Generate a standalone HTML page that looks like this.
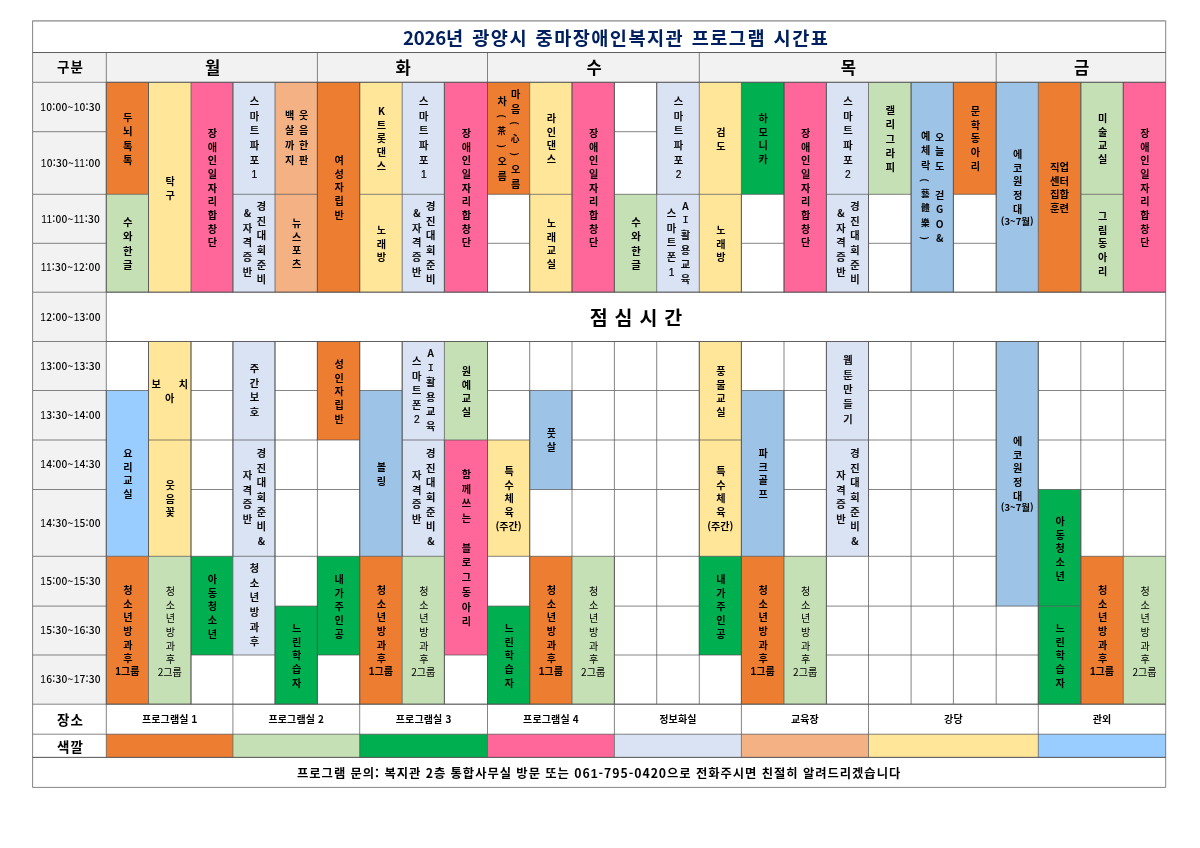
<!DOCTYPE html>
<html lang="ko"><head><meta charset="utf-8"><title>2026년 광양시 중마장애인복지관 프로그램 시간표</title>
<style>
html,body{margin:0;padding:0;background:#fff}
body{width:1200px;height:848px;position:relative;overflow:hidden;font-family:"Noto Sans CJK KR","Liberation Sans",sans-serif;color:#000}
svg{position:absolute;left:0;top:0}
.c{position:absolute;display:flex;align-items:center;justify-content:center;box-sizing:border-box;overflow:visible}
.v{writing-mode:vertical-rl;text-orientation:upright;text-align:center;white-space:nowrap;font-family:"Noto Sans CJK KR",sans-serif}
.h{white-space:nowrap;text-align:center}
.o{font-family:"Liberation Sans",sans-serif}
.d{font-family:"Liberation Sans",sans-serif;margin-bottom:-0.13em;line-height:0}
.hj{font-size:88%}
.im{font-family:"Liberation Mono",monospace}
.pr{text-orientation:sideways;font-size:90%;padding-inline:0.386em;line-height:0}
.vh{display:flex;flex-direction:column;align-items:center}
.title{font-size:18.6px;font-weight:700;color:#002060;letter-spacing:1.45px;word-spacing:1px;position:relative;left:17px}
.hd1{font-size:13.5px;font-weight:700;letter-spacing:0.9px;position:relative;top:-1px;left:1px}
.hd2{font-size:16.6px;font-weight:700;position:relative;top:-0.6px;left:0.7px}
.tm{font-size:10.2px;font-weight:500;letter-spacing:0.22px;position:relative;top:-0.8px;left:1.2px}
.lunch{font-size:19.5px;font-weight:700;word-spacing:1.5px}
.lab{font-size:13.5px;font-weight:700;letter-spacing:0.9px;position:relative;top:-0.5px;left:1px}
.lab2{top:0.7px}
.pl{font-size:10px;font-weight:700;letter-spacing:0.15px;position:relative;top:-0.7px}
.ft{font-size:12.3px;font-weight:700;letter-spacing:0.96px;position:relative;top:0.3px}
</style></head><body>
<svg width="1200" height="848" viewBox="0 0 1200 848">
<rect x="32.6" y="20.8" width="1133.1" height="31.7" fill="#fff"/>
<rect x="32.6" y="52.5" width="1133.1" height="29.8" fill="#F2F2F2"/>
<rect x="32.6" y="82.3" width="73.7" height="621.9" fill="#F2F2F2"/>
<rect x="106.3" y="82.3" width="1059.4" height="621.9" fill="#fff"/>
<rect x="32.6" y="704.2" width="1133.1" height="83.2" fill="#fff"/>
<rect x="106.3" y="82.3" width="42.2" height="112" fill="#ED7D31"/>
<rect x="106.3" y="194.3" width="42.2" height="97.9" fill="#C5E0B4"/>
<rect x="148.5" y="82.3" width="42.5" height="209.9" fill="#FFE699"/>
<rect x="191" y="82.3" width="41.9" height="209.9" fill="#FF6699"/>
<rect x="232.9" y="82.3" width="42.1" height="112" fill="#DAE3F3"/>
<rect x="232.9" y="194.3" width="42.1" height="97.9" fill="#DAE3F3"/>
<rect x="275" y="82.3" width="42.4" height="112" fill="#F4B183"/>
<rect x="275" y="194.3" width="42.4" height="97.9" fill="#F4B183"/>
<rect x="317.4" y="82.3" width="42.3" height="209.9" fill="#ED7D31"/>
<rect x="359.7" y="82.3" width="42.5" height="112" fill="#FFE699"/>
<rect x="359.7" y="194.3" width="42.5" height="97.9" fill="#FFE699"/>
<rect x="402.2" y="82.3" width="42.2" height="112" fill="#DAE3F3"/>
<rect x="402.2" y="194.3" width="42.2" height="97.9" fill="#DAE3F3"/>
<rect x="444.4" y="82.3" width="43.1" height="209.9" fill="#FF6699"/>
<rect x="487.5" y="82.3" width="42.2" height="112" fill="#ED7D31"/>
<rect x="529.7" y="82.3" width="42.3" height="112" fill="#FFE699"/>
<rect x="529.7" y="194.3" width="42.3" height="97.9" fill="#FFE699"/>
<rect x="572" y="82.3" width="42.4" height="209.9" fill="#FF6699"/>
<rect x="614.4" y="194.3" width="42.3" height="97.9" fill="#C5E0B4"/>
<rect x="656.7" y="82.3" width="42.6" height="112" fill="#DAE3F3"/>
<rect x="656.7" y="194.3" width="42.6" height="97.9" fill="#DAE3F3"/>
<rect x="699.3" y="82.3" width="42.1" height="112" fill="#FFE699"/>
<rect x="699.3" y="194.3" width="42.1" height="97.9" fill="#FFE699"/>
<rect x="741.4" y="82.3" width="42.6" height="112" fill="#00B050"/>
<rect x="784" y="82.3" width="42.4" height="209.9" fill="#FF6699"/>
<rect x="826.4" y="82.3" width="42.1" height="112" fill="#DAE3F3"/>
<rect x="826.4" y="194.3" width="42.1" height="97.9" fill="#DAE3F3"/>
<rect x="868.5" y="82.3" width="42.6" height="112" fill="#C5E0B4"/>
<rect x="911.1" y="82.3" width="42.3" height="209.9" fill="#9DC3E6"/>
<rect x="953.4" y="82.3" width="42.8" height="112" fill="#ED7D31"/>
<rect x="996.2" y="82.3" width="42.1" height="209.9" fill="#9DC3E6"/>
<rect x="1038.3" y="82.3" width="42.5" height="209.9" fill="#ED7D31"/>
<rect x="1080.8" y="82.3" width="42.5" height="112" fill="#C5E0B4"/>
<rect x="1080.8" y="194.3" width="42.5" height="97.9" fill="#C5E0B4"/>
<rect x="1123.3" y="82.3" width="42.4" height="209.9" fill="#FF6699"/>
<rect x="106.3" y="390.5" width="42.2" height="165.8" fill="#99CCFF"/>
<rect x="106.3" y="556.3" width="42.2" height="147.9" fill="#ED7D31"/>
<rect x="148.5" y="341.5" width="42.5" height="98.5" fill="#FFE699"/>
<rect x="148.5" y="440" width="42.5" height="116.3" fill="#FFE699"/>
<rect x="148.5" y="556.3" width="42.5" height="147.9" fill="#C5E0B4"/>
<rect x="191" y="556.3" width="41.9" height="98.7" fill="#00B050"/>
<rect x="232.9" y="341.5" width="42.1" height="98.5" fill="#DAE3F3"/>
<rect x="232.9" y="440" width="42.1" height="116.3" fill="#DAE3F3"/>
<rect x="232.9" y="556.3" width="42.1" height="98.7" fill="#DAE3F3"/>
<rect x="275" y="606.1" width="42.4" height="98.1" fill="#00B050"/>
<rect x="317.4" y="341.5" width="42.3" height="98.5" fill="#ED7D31"/>
<rect x="317.4" y="556.3" width="42.3" height="98.7" fill="#00B050"/>
<rect x="359.7" y="390.5" width="42.5" height="165.8" fill="#9DC3E6"/>
<rect x="359.7" y="556.3" width="42.5" height="147.9" fill="#ED7D31"/>
<rect x="402.2" y="341.5" width="42.2" height="98.5" fill="#DAE3F3"/>
<rect x="402.2" y="440" width="42.2" height="116.3" fill="#DAE3F3"/>
<rect x="402.2" y="556.3" width="42.2" height="147.9" fill="#C5E0B4"/>
<rect x="444.4" y="341.5" width="43.1" height="98.5" fill="#C5E0B4"/>
<rect x="444.4" y="440" width="43.1" height="215" fill="#FF6699"/>
<rect x="487.5" y="440" width="42.2" height="116.3" fill="#FFE699"/>
<rect x="487.5" y="606.1" width="42.2" height="98.1" fill="#00B050"/>
<rect x="529.7" y="390.5" width="42.3" height="99" fill="#9DC3E6"/>
<rect x="529.7" y="556.3" width="42.3" height="147.9" fill="#ED7D31"/>
<rect x="572" y="556.3" width="42.4" height="147.9" fill="#C5E0B4"/>
<rect x="699.3" y="341.5" width="42.1" height="98.5" fill="#FFE699"/>
<rect x="699.3" y="440" width="42.1" height="116.3" fill="#FFE699"/>
<rect x="699.3" y="556.3" width="42.1" height="98.7" fill="#00B050"/>
<rect x="741.4" y="390.5" width="42.6" height="165.8" fill="#9DC3E6"/>
<rect x="741.4" y="556.3" width="42.6" height="147.9" fill="#ED7D31"/>
<rect x="784" y="556.3" width="42.4" height="147.9" fill="#C5E0B4"/>
<rect x="826.4" y="341.5" width="42.1" height="98.5" fill="#DAE3F3"/>
<rect x="826.4" y="440" width="42.1" height="116.3" fill="#DAE3F3"/>
<rect x="996.2" y="341.5" width="42.1" height="264.6" fill="#9DC3E6"/>
<rect x="1038.3" y="489.5" width="42.5" height="116.6" fill="#00B050"/>
<rect x="1038.3" y="606.1" width="42.5" height="98.1" fill="#00B050"/>
<rect x="1080.8" y="556.3" width="42.5" height="147.9" fill="#ED7D31"/>
<rect x="1123.3" y="556.3" width="42.4" height="147.9" fill="#C5E0B4"/>
<rect x="106.3" y="734.2" width="126.6" height="23.2" fill="#ED7D31"/>
<rect x="232.9" y="734.2" width="126.8" height="23.2" fill="#C5E0B4"/>
<rect x="359.7" y="734.2" width="127.8" height="23.2" fill="#00B050"/>
<rect x="487.5" y="734.2" width="126.9" height="23.2" fill="#FF6699"/>
<rect x="614.4" y="734.2" width="127" height="23.2" fill="#DAE3F3"/>
<rect x="741.4" y="734.2" width="127.1" height="23.2" fill="#F4B183"/>
<rect x="868.5" y="734.2" width="169.8" height="23.2" fill="#FFE699"/>
<rect x="1038.3" y="734.2" width="127.4" height="23.2" fill="#99CCFF"/>
<path d="M32.6 52.5H106.3M32.6 82.3H106.3M32.6 131.7H106.3M32.6 194.3H106.3M32.6 243.3H106.3M32.6 292.2H106.3M32.6 341.5H106.3M32.6 390.5H106.3M32.6 440H106.3M32.6 489.5H106.3M32.6 556.3H106.3M32.6 606.1H106.3M32.6 655H106.3M32.6 704.2H106.3M32.6 734.2H106.3M32.6 757.4H106.3M32.6 20.8H1165.7M32.6 52.5H1165.7M32.6 757.4H1165.7M32.6 787.4H1165.7M106.3 82.3H148.5M106.3 194.3H148.5M106.3 292.2H148.5M106.3 341.5H148.5M106.3 390.5H148.5M106.3 556.3H148.5M106.3 704.2H148.5M106.3 704.2H232.9M106.3 734.2H232.9M106.3 757.4H232.9M106.3 52.5H317.4M106.3 82.3H317.4M106.3 292.2H1165.7M106.3 341.5H1165.7M148.5 82.3H191M148.5 292.2H191M148.5 341.5H191M148.5 440H191M148.5 556.3H191M148.5 704.2H191M191 82.3H232.9M191 292.2H232.9M191 341.5H232.9M191 390.5H232.9M191 440H232.9M191 489.5H232.9M191 556.3H232.9M191 655H232.9M191 704.2H232.9M232.9 82.3H275M232.9 194.3H275M232.9 292.2H275M232.9 341.5H275M232.9 440H275M232.9 556.3H275M232.9 655H275M232.9 704.2H275M232.9 704.2H359.7M232.9 734.2H359.7M232.9 757.4H359.7M275 82.3H317.4M275 194.3H317.4M275 292.2H317.4M275 341.5H317.4M275 390.5H317.4M275 440H317.4M275 489.5H317.4M275 556.3H317.4M275 606.1H317.4M275 704.2H317.4M317.4 82.3H359.7M317.4 292.2H359.7M317.4 341.5H359.7M317.4 440H359.7M317.4 489.5H359.7M317.4 556.3H359.7M317.4 655H359.7M317.4 704.2H359.7M317.4 52.5H487.5M317.4 82.3H487.5M359.7 82.3H402.2M359.7 194.3H402.2M359.7 292.2H402.2M359.7 341.5H402.2M359.7 390.5H402.2M359.7 556.3H402.2M359.7 704.2H402.2M359.7 704.2H487.5M359.7 734.2H487.5M359.7 757.4H487.5M402.2 82.3H444.4M402.2 194.3H444.4M402.2 292.2H444.4M402.2 341.5H444.4M402.2 440H444.4M402.2 556.3H444.4M402.2 704.2H444.4M444.4 82.3H487.5M444.4 292.2H487.5M444.4 341.5H487.5M444.4 440H487.5M444.4 655H487.5M444.4 704.2H487.5M487.5 82.3H529.7M487.5 194.3H529.7M487.5 243.3H529.7M487.5 292.2H529.7M487.5 341.5H529.7M487.5 390.5H529.7M487.5 440H529.7M487.5 556.3H529.7M487.5 606.1H529.7M487.5 704.2H529.7M487.5 704.2H614.4M487.5 734.2H614.4M487.5 757.4H614.4M487.5 52.5H699.3M487.5 82.3H699.3M529.7 82.3H572M529.7 194.3H572M529.7 292.2H572M529.7 341.5H572M529.7 390.5H572M529.7 489.5H572M529.7 556.3H572M529.7 704.2H572M572 82.3H614.4M572 292.2H614.4M572 341.5H614.4M572 390.5H614.4M572 440H614.4M572 489.5H614.4M572 556.3H614.4M572 704.2H614.4M614.4 82.3H656.7M614.4 131.7H656.7M614.4 194.3H656.7M614.4 292.2H656.7M614.4 341.5H656.7M614.4 390.5H656.7M614.4 440H656.7M614.4 489.5H656.7M614.4 556.3H656.7M614.4 606.1H656.7M614.4 655H656.7M614.4 704.2H656.7M614.4 704.2H741.4M614.4 734.2H741.4M614.4 757.4H741.4M656.7 82.3H699.3M656.7 194.3H699.3M656.7 292.2H699.3M656.7 341.5H699.3M656.7 390.5H699.3M656.7 440H699.3M656.7 489.5H699.3M656.7 556.3H699.3M656.7 606.1H699.3M656.7 655H699.3M656.7 704.2H699.3M699.3 82.3H741.4M699.3 194.3H741.4M699.3 292.2H741.4M699.3 341.5H741.4M699.3 440H741.4M699.3 556.3H741.4M699.3 655H741.4M699.3 704.2H741.4M699.3 52.5H996.2M699.3 82.3H996.2M741.4 82.3H784M741.4 194.3H784M741.4 243.3H784M741.4 292.2H784M741.4 341.5H784M741.4 390.5H784M741.4 556.3H784M741.4 704.2H784M741.4 704.2H868.5M741.4 734.2H868.5M741.4 757.4H868.5M784 82.3H826.4M784 292.2H826.4M784 341.5H826.4M784 390.5H826.4M784 440H826.4M784 489.5H826.4M784 556.3H826.4M784 704.2H826.4M826.4 82.3H868.5M826.4 194.3H868.5M826.4 292.2H868.5M826.4 341.5H868.5M826.4 440H868.5M826.4 556.3H868.5M826.4 606.1H868.5M826.4 655H868.5M826.4 704.2H868.5M868.5 82.3H911.1M868.5 194.3H911.1M868.5 243.3H911.1M868.5 292.2H911.1M868.5 341.5H911.1M868.5 390.5H911.1M868.5 440H911.1M868.5 489.5H911.1M868.5 556.3H911.1M868.5 606.1H911.1M868.5 655H911.1M868.5 704.2H911.1M868.5 704.2H1038.3M868.5 734.2H1038.3M868.5 757.4H1038.3M911.1 82.3H953.4M911.1 292.2H953.4M911.1 341.5H953.4M911.1 390.5H953.4M911.1 440H953.4M911.1 489.5H953.4M911.1 556.3H953.4M911.1 606.1H953.4M911.1 655H953.4M911.1 704.2H953.4M953.4 82.3H996.2M953.4 194.3H996.2M953.4 243.3H996.2M953.4 292.2H996.2M953.4 341.5H996.2M953.4 390.5H996.2M953.4 440H996.2M953.4 489.5H996.2M953.4 556.3H996.2M953.4 606.1H996.2M953.4 655H996.2M953.4 704.2H996.2M996.2 82.3H1038.3M996.2 292.2H1038.3M996.2 341.5H1038.3M996.2 606.1H1038.3M996.2 655H1038.3M996.2 704.2H1038.3M996.2 52.5H1165.7M996.2 82.3H1165.7M1038.3 82.3H1080.8M1038.3 292.2H1080.8M1038.3 341.5H1080.8M1038.3 390.5H1080.8M1038.3 440H1080.8M1038.3 489.5H1080.8M1038.3 606.1H1080.8M1038.3 704.2H1080.8M1038.3 704.2H1165.7M1038.3 734.2H1165.7M1038.3 757.4H1165.7M1080.8 82.3H1123.3M1080.8 194.3H1123.3M1080.8 292.2H1123.3M1080.8 341.5H1123.3M1080.8 390.5H1123.3M1080.8 440H1123.3M1080.8 489.5H1123.3M1080.8 556.3H1123.3M1080.8 704.2H1123.3M1123.3 82.3H1165.7M1123.3 292.2H1165.7M1123.3 341.5H1165.7M1123.3 390.5H1165.7M1123.3 440H1165.7M1123.3 489.5H1165.7M1123.3 556.3H1165.7M1123.3 704.2H1165.7M32.6 20.8V52.5M32.6 52.5V82.3M32.6 82.3V131.7M32.6 131.7V194.3M32.6 194.3V243.3M32.6 243.3V292.2M32.6 292.2V341.5M32.6 341.5V390.5M32.6 390.5V440M32.6 440V489.5M32.6 489.5V556.3M32.6 556.3V606.1M32.6 606.1V655M32.6 655V704.2M32.6 704.2V734.2M32.6 734.2V757.4M32.6 757.4V787.4M106.3 52.5V82.3M106.3 82.3V131.7M106.3 82.3V194.3M106.3 131.7V194.3M106.3 194.3V243.3M106.3 194.3V292.2M106.3 243.3V292.2M106.3 292.2V341.5M106.3 341.5V390.5M106.3 390.5V440M106.3 390.5V556.3M106.3 440V489.5M106.3 489.5V556.3M106.3 556.3V606.1M106.3 556.3V704.2M106.3 606.1V655M106.3 655V704.2M106.3 704.2V734.2M106.3 734.2V757.4M148.5 82.3V194.3M148.5 82.3V292.2M148.5 194.3V292.2M148.5 341.5V390.5M148.5 341.5V440M148.5 390.5V556.3M148.5 440V556.3M148.5 556.3V704.2M191 82.3V292.2M191 341.5V390.5M191 341.5V440M191 390.5V440M191 440V489.5M191 440V556.3M191 489.5V556.3M191 556.3V655M191 556.3V704.2M191 655V704.2M232.9 82.3V194.3M232.9 82.3V292.2M232.9 194.3V292.2M232.9 341.5V390.5M232.9 341.5V440M232.9 390.5V440M232.9 440V489.5M232.9 440V556.3M232.9 489.5V556.3M232.9 556.3V655M232.9 655V704.2M232.9 704.2V734.2M232.9 734.2V757.4M275 82.3V194.3M275 194.3V292.2M275 341.5V390.5M275 341.5V440M275 390.5V440M275 440V489.5M275 440V556.3M275 489.5V556.3M275 556.3V606.1M275 556.3V655M275 606.1V704.2M275 655V704.2M317.4 52.5V82.3M317.4 82.3V194.3M317.4 82.3V292.2M317.4 194.3V292.2M317.4 341.5V390.5M317.4 341.5V440M317.4 390.5V440M317.4 440V489.5M317.4 489.5V556.3M317.4 556.3V606.1M317.4 556.3V655M317.4 606.1V704.2M317.4 655V704.2M359.7 82.3V194.3M359.7 82.3V292.2M359.7 194.3V292.2M359.7 341.5V390.5M359.7 341.5V440M359.7 390.5V556.3M359.7 440V489.5M359.7 489.5V556.3M359.7 556.3V655M359.7 556.3V704.2M359.7 655V704.2M359.7 704.2V734.2M359.7 734.2V757.4M402.2 82.3V194.3M402.2 194.3V292.2M402.2 341.5V390.5M402.2 341.5V440M402.2 390.5V556.3M402.2 440V556.3M402.2 556.3V704.2M444.4 82.3V194.3M444.4 82.3V292.2M444.4 194.3V292.2M444.4 341.5V440M444.4 440V556.3M444.4 440V655M444.4 556.3V704.2M444.4 655V704.2M487.5 52.5V82.3M487.5 82.3V194.3M487.5 82.3V292.2M487.5 194.3V243.3M487.5 243.3V292.2M487.5 341.5V390.5M487.5 341.5V440M487.5 390.5V440M487.5 440V556.3M487.5 440V655M487.5 556.3V606.1M487.5 606.1V704.2M487.5 655V704.2M487.5 704.2V734.2M487.5 734.2V757.4M529.7 82.3V194.3M529.7 194.3V243.3M529.7 194.3V292.2M529.7 243.3V292.2M529.7 341.5V390.5M529.7 390.5V440M529.7 390.5V489.5M529.7 440V556.3M529.7 489.5V556.3M529.7 556.3V606.1M529.7 556.3V704.2M529.7 606.1V704.2M572 82.3V194.3M572 82.3V292.2M572 194.3V292.2M572 341.5V390.5M572 390.5V440M572 390.5V489.5M572 440V489.5M572 489.5V556.3M572 556.3V704.2M614.4 82.3V131.7M614.4 82.3V292.2M614.4 131.7V194.3M614.4 194.3V292.2M614.4 341.5V390.5M614.4 390.5V440M614.4 440V489.5M614.4 489.5V556.3M614.4 556.3V606.1M614.4 556.3V704.2M614.4 606.1V655M614.4 655V704.2M614.4 704.2V734.2M614.4 734.2V757.4M656.7 82.3V131.7M656.7 82.3V194.3M656.7 131.7V194.3M656.7 194.3V292.2M656.7 341.5V390.5M656.7 390.5V440M656.7 440V489.5M656.7 489.5V556.3M656.7 556.3V606.1M656.7 606.1V655M656.7 655V704.2M699.3 52.5V82.3M699.3 82.3V194.3M699.3 194.3V292.2M699.3 341.5V390.5M699.3 341.5V440M699.3 390.5V440M699.3 440V489.5M699.3 440V556.3M699.3 489.5V556.3M699.3 556.3V606.1M699.3 556.3V655M699.3 606.1V655M699.3 655V704.2M741.4 82.3V194.3M741.4 194.3V243.3M741.4 194.3V292.2M741.4 243.3V292.2M741.4 341.5V390.5M741.4 341.5V440M741.4 390.5V556.3M741.4 440V556.3M741.4 556.3V655M741.4 556.3V704.2M741.4 655V704.2M741.4 704.2V734.2M741.4 734.2V757.4M784 82.3V194.3M784 82.3V292.2M784 194.3V243.3M784 243.3V292.2M784 341.5V390.5M784 390.5V440M784 390.5V556.3M784 440V489.5M784 489.5V556.3M784 556.3V704.2M826.4 82.3V194.3M826.4 82.3V292.2M826.4 194.3V292.2M826.4 341.5V390.5M826.4 341.5V440M826.4 390.5V440M826.4 440V489.5M826.4 440V556.3M826.4 489.5V556.3M826.4 556.3V606.1M826.4 556.3V704.2M826.4 606.1V655M826.4 655V704.2M868.5 82.3V194.3M868.5 194.3V243.3M868.5 194.3V292.2M868.5 243.3V292.2M868.5 341.5V390.5M868.5 341.5V440M868.5 390.5V440M868.5 440V489.5M868.5 440V556.3M868.5 489.5V556.3M868.5 556.3V606.1M868.5 606.1V655M868.5 655V704.2M868.5 704.2V734.2M868.5 734.2V757.4M911.1 82.3V194.3M911.1 82.3V292.2M911.1 194.3V243.3M911.1 243.3V292.2M911.1 341.5V390.5M911.1 390.5V440M911.1 440V489.5M911.1 489.5V556.3M911.1 556.3V606.1M911.1 606.1V655M911.1 655V704.2M953.4 82.3V194.3M953.4 82.3V292.2M953.4 194.3V243.3M953.4 243.3V292.2M953.4 341.5V390.5M953.4 390.5V440M953.4 440V489.5M953.4 489.5V556.3M953.4 556.3V606.1M953.4 606.1V655M953.4 655V704.2M996.2 52.5V82.3M996.2 82.3V194.3M996.2 82.3V292.2M996.2 194.3V243.3M996.2 243.3V292.2M996.2 341.5V390.5M996.2 341.5V606.1M996.2 390.5V440M996.2 440V489.5M996.2 489.5V556.3M996.2 556.3V606.1M996.2 606.1V655M996.2 655V704.2M1038.3 82.3V292.2M1038.3 341.5V390.5M1038.3 341.5V606.1M1038.3 390.5V440M1038.3 440V489.5M1038.3 489.5V606.1M1038.3 606.1V655M1038.3 606.1V704.2M1038.3 655V704.2M1038.3 704.2V734.2M1038.3 734.2V757.4M1080.8 82.3V194.3M1080.8 82.3V292.2M1080.8 194.3V292.2M1080.8 341.5V390.5M1080.8 390.5V440M1080.8 440V489.5M1080.8 489.5V556.3M1080.8 489.5V606.1M1080.8 556.3V704.2M1080.8 606.1V704.2M1123.3 82.3V194.3M1123.3 82.3V292.2M1123.3 194.3V292.2M1123.3 341.5V390.5M1123.3 390.5V440M1123.3 440V489.5M1123.3 489.5V556.3M1123.3 556.3V704.2M1165.7 20.8V52.5M1165.7 52.5V82.3M1165.7 82.3V292.2M1165.7 292.2V341.5M1165.7 341.5V390.5M1165.7 390.5V440M1165.7 440V489.5M1165.7 489.5V556.3M1165.7 556.3V704.2M1165.7 704.2V734.2M1165.7 734.2V757.4M1165.7 757.4V787.4" fill="none" stroke="#505050" stroke-width="0.7"/>
<path d="M32.6 20.8H1165.7" stroke="#a8a8a8" stroke-width="1.6" fill="none"/>
</svg>
<div class="c " style="left:106.3px;top:82.3px;width:42.2px;height:112px;"><div class="v" style="font-weight:700;font-size:10.4px;letter-spacing:3.85px;line-height:14px;margin-bottom:-3.85px;position:relative;left:0px;top:0.4px;">두뇌톡톡</div></div>
<div class="c " style="left:106.3px;top:194.3px;width:42.2px;height:97.9px;"><div class="v" style="font-weight:700;font-size:10.4px;letter-spacing:3.85px;line-height:14px;margin-bottom:-3.85px;position:relative;left:0px;top:0.4px;">수와한글</div></div>
<div class="c " style="left:148.5px;top:82.3px;width:42.5px;height:209.9px;"><div class="v" style="font-weight:700;font-size:10.1px;letter-spacing:3.6px;line-height:14px;margin-bottom:-3.6px;position:relative;left:0px;top:0.4px;">탁구</div></div>
<div class="c " style="left:191px;top:82.3px;width:41.9px;height:209.9px;"><div class="v" style="font-weight:700;font-size:10.1px;letter-spacing:3.6px;line-height:14px;margin-bottom:-3.6px;position:relative;left:0px;top:0.4px;">장애인일자리합창단</div></div>
<div class="c " style="left:232.9px;top:82.3px;width:42.1px;height:112px;"><div class="v" style="font-weight:500;-webkit-text-stroke:0.22px #000;font-size:10.2px;letter-spacing:4.5px;line-height:14px;margin-bottom:-4.5px;position:relative;left:0px;top:-0.9px;">스마트파포<span class="d">1</span></div></div>
<div class="c " style="left:232.9px;top:194.3px;width:42.1px;height:97.9px;"><div class="v" style="font-weight:500;-webkit-text-stroke:0.22px #000;font-size:10.2px;letter-spacing:4.5px;line-height:14px;margin-bottom:-4.5px;position:relative;left:0px;top:-0.9px;">경진대회준비<br>&amp;자격증반</div></div>
<div class="c " style="left:275px;top:82.3px;width:42.4px;height:112px;"><div class="v" style="font-weight:700;font-size:10.1px;letter-spacing:4.95px;line-height:14px;margin-bottom:-4.95px;position:relative;left:0px;top:-0.9px;">웃음한판<br>백살까지</div></div>
<div class="c " style="left:275px;top:194.3px;width:42.4px;height:97.9px;"><div class="v" style="font-weight:700;font-size:10.1px;letter-spacing:3.6px;line-height:14px;margin-bottom:-3.6px;position:relative;left:0px;top:0.4px;">뉴스포츠</div></div>
<div class="c " style="left:317.4px;top:82.3px;width:42.3px;height:209.9px;"><div class="v" style="font-weight:700;font-size:10.1px;letter-spacing:3.6px;line-height:14px;margin-bottom:-3.6px;position:relative;left:0px;top:0.4px;">여성자립반</div></div>
<div class="c " style="left:359.7px;top:82.3px;width:42.5px;height:112px;"><div class="v" style="font-weight:700;font-size:10.1px;letter-spacing:3.6px;line-height:14px;margin-bottom:-3.6px;position:relative;left:0px;top:0.4px;">K트롯댄스</div></div>
<div class="c " style="left:359.7px;top:194.3px;width:42.5px;height:97.9px;"><div class="v" style="font-weight:700;font-size:10.1px;letter-spacing:3.6px;line-height:14px;margin-bottom:-3.6px;position:relative;left:0px;top:0.4px;">노래방</div></div>
<div class="c " style="left:402.2px;top:82.3px;width:42.2px;height:112px;"><div class="v" style="font-weight:500;-webkit-text-stroke:0.22px #000;font-size:10.2px;letter-spacing:4.5px;line-height:14px;margin-bottom:-4.5px;position:relative;left:0px;top:-0.9px;">스마트파포<span class="d">1</span></div></div>
<div class="c " style="left:402.2px;top:194.3px;width:42.2px;height:97.9px;"><div class="v" style="font-weight:500;-webkit-text-stroke:0.22px #000;font-size:10.2px;letter-spacing:4.5px;line-height:14px;margin-bottom:-4.5px;position:relative;left:0px;top:-0.9px;">경진대회준비<br>&amp;자격증반</div></div>
<div class="c " style="left:444.4px;top:82.3px;width:43.1px;height:209.9px;"><div class="v" style="font-weight:700;font-size:10.1px;letter-spacing:3.6px;line-height:14px;margin-bottom:-3.6px;position:relative;left:0px;top:0.4px;">장애인일자리합창단</div></div>
<div class="c " style="left:487.5px;top:82.3px;width:42.2px;height:112px;"><div class="v" style="font-weight:700;font-size:10.1px;letter-spacing:4.8px;line-height:13.5px;margin-bottom:-4.8px;position:relative;left:0px;top:0.4px;">마음<span class="pr">(</span><span style="line-height:0;font-size:8.69px;letter-spacing:6.21px">心</span><span class="pr">)</span>오름<br>차<span class="pr">(</span><span style="line-height:0;font-size:8.69px;letter-spacing:6.21px">茶</span><span class="pr">)</span>오름</div></div>
<div class="c " style="left:529.7px;top:82.3px;width:42.3px;height:112px;"><div class="v" style="font-weight:700;font-size:10.1px;letter-spacing:3.6px;line-height:14px;margin-bottom:-3.6px;position:relative;left:0px;top:0.4px;">라인댄스</div></div>
<div class="c " style="left:529.7px;top:194.3px;width:42.3px;height:97.9px;"><div class="v" style="font-weight:700;font-size:10.1px;letter-spacing:3.6px;line-height:14px;margin-bottom:-3.6px;position:relative;left:0px;top:0.4px;">노래교실</div></div>
<div class="c " style="left:572px;top:82.3px;width:42.4px;height:209.9px;"><div class="v" style="font-weight:700;font-size:10.1px;letter-spacing:3.6px;line-height:14px;margin-bottom:-3.6px;position:relative;left:0px;top:0.4px;">장애인일자리합창단</div></div>
<div class="c " style="left:614.4px;top:194.3px;width:42.3px;height:97.9px;"><div class="v" style="font-weight:700;font-size:10.4px;letter-spacing:3.85px;line-height:14px;margin-bottom:-3.85px;position:relative;left:0px;top:0.4px;">수와한글</div></div>
<div class="c " style="left:656.7px;top:82.3px;width:42.6px;height:112px;"><div class="v" style="font-weight:500;-webkit-text-stroke:0.22px #000;font-size:10.2px;letter-spacing:4.5px;line-height:14px;margin-bottom:-4.5px;position:relative;left:0px;top:-0.9px;">스마트파포<span class="d">2</span></div></div>
<div class="c " style="left:656.7px;top:194.3px;width:42.6px;height:97.9px;"><div class="v" style="font-weight:500;-webkit-text-stroke:0.22px #000;font-size:10.2px;letter-spacing:4.5px;line-height:14px;margin-bottom:-4.5px;position:relative;left:0px;top:-0.9px;">A<span class="d im">I</span>활용교육<br>스마트폰<span class="d">1</span></div></div>
<div class="c " style="left:699.3px;top:82.3px;width:42.1px;height:112px;"><div class="v" style="font-weight:700;font-size:10.1px;letter-spacing:3.6px;line-height:14px;margin-bottom:-3.6px;position:relative;left:0px;top:0.4px;">검도</div></div>
<div class="c " style="left:699.3px;top:194.3px;width:42.1px;height:97.9px;"><div class="v" style="font-weight:700;font-size:10.1px;letter-spacing:3.6px;line-height:14px;margin-bottom:-3.6px;position:relative;left:0px;top:0.4px;">노래방</div></div>
<div class="c " style="left:741.4px;top:82.3px;width:42.6px;height:112px;"><div class="v" style="font-weight:700;font-size:10.1px;letter-spacing:3.6px;line-height:14px;margin-bottom:-3.6px;position:relative;left:0px;top:0.4px;">하모니카</div></div>
<div class="c " style="left:784px;top:82.3px;width:42.4px;height:209.9px;"><div class="v" style="font-weight:700;font-size:10.1px;letter-spacing:3.6px;line-height:14px;margin-bottom:-3.6px;position:relative;left:0px;top:0.4px;">장애인일자리합창단</div></div>
<div class="c " style="left:826.4px;top:82.3px;width:42.1px;height:112px;"><div class="v" style="font-weight:500;-webkit-text-stroke:0.22px #000;font-size:10.2px;letter-spacing:4.5px;line-height:14px;margin-bottom:-4.5px;position:relative;left:0px;top:-0.9px;">스마트파포<span class="d">2</span></div></div>
<div class="c " style="left:826.4px;top:194.3px;width:42.1px;height:97.9px;"><div class="v" style="font-weight:500;-webkit-text-stroke:0.22px #000;font-size:10.2px;letter-spacing:4.5px;line-height:14px;margin-bottom:-4.5px;position:relative;left:0px;top:-0.9px;">경진대회준비<br>&amp;자격증반</div></div>
<div class="c " style="left:868.5px;top:82.3px;width:42.6px;height:112px;"><div class="v" style="font-weight:700;font-size:10.4px;letter-spacing:3.9px;line-height:14px;margin-bottom:-3.9px;position:relative;left:0px;top:0.4px;">캘리그라피</div></div>
<div class="c " style="left:911.1px;top:82.3px;width:42.3px;height:209.9px;"><div class="v" style="font-weight:700;font-size:10.1px;letter-spacing:4.4px;line-height:14px;margin-bottom:-4.4px;position:relative;left:0px;top:0.4px;">오늘도　걷GO&amp;<br>예체락<span class="pr">(</span><span style="line-height:0;font-size:8.69px;letter-spacing:5.81px">藝體樂</span><span class="pr">)</span></div></div>
<div class="c " style="left:953.4px;top:82.3px;width:42.8px;height:112px;"><div class="v" style="font-weight:700;font-size:10.1px;letter-spacing:3.6px;line-height:14px;margin-bottom:-3.6px;position:relative;left:0px;top:0.4px;">문학동아리</div></div>
<div class="c " style="left:996.2px;top:82.3px;width:42.1px;height:209.9px;"><div class="vh" style="font-weight:700;position:relative;left:0px;top:1.6px;"><div class="v" style="font-size:10.1px;letter-spacing:3.6px;line-height:12.1px;margin-bottom:-2.6px">에코원정대</div><div class="h" style="font-size:9.5px;line-height:13.7px">(3~7월)</div></div></div>
<div class="c " style="left:1038.3px;top:82.3px;width:42.5px;height:209.9px;"><div class="h" style="font-weight:700;font-size:10.4px;line-height:13.7px;">직업<br>센터<br>집합<br>훈련</div></div>
<div class="c " style="left:1080.8px;top:82.3px;width:42.5px;height:112px;"><div class="v" style="font-weight:700;font-size:10.1px;letter-spacing:3.6px;line-height:14px;margin-bottom:-3.6px;position:relative;left:0px;top:0.4px;">미술교실</div></div>
<div class="c " style="left:1080.8px;top:194.3px;width:42.5px;height:97.9px;"><div class="v" style="font-weight:700;font-size:10.1px;letter-spacing:3.6px;line-height:14px;margin-bottom:-3.6px;position:relative;left:0px;top:0.4px;">그림동아리</div></div>
<div class="c " style="left:1123.3px;top:82.3px;width:42.4px;height:209.9px;"><div class="v" style="font-weight:700;font-size:10.1px;letter-spacing:3.6px;line-height:14px;margin-bottom:-3.6px;position:relative;left:0px;top:0.4px;">장애인일자리합창단</div></div>
<div class="c " style="left:106.3px;top:390.5px;width:42.2px;height:165.8px;"><div class="v" style="font-weight:700;font-size:10.1px;letter-spacing:3.6px;line-height:14px;margin-bottom:-3.6px;position:relative;left:0px;top:0.4px;">요리교실</div></div>
<div class="c " style="left:106.3px;top:556.3px;width:42.2px;height:147.9px;"><div class="vh" style="font-weight:700;position:relative;left:0px;top:1.8px;"><div class="v" style="font-size:10.1px;letter-spacing:3.6px;line-height:12.1px;margin-bottom:-3px">청소년방과후</div><div class="h" style="font-size:10.1px;line-height:13.7px"><span class="o">1</span>그룹</div></div></div>
<div class="c " style="left:148.5px;top:341.5px;width:42.5px;height:98.5px;"><div class="h" style="font-weight:700;font-size:10.1px;line-height:13.6px;">보<span style="display:inline-block;width:18px"></span>치<br>아</div></div>
<div class="c " style="left:148.5px;top:440px;width:42.5px;height:116.3px;"><div class="v" style="font-weight:700;font-size:10.1px;letter-spacing:3.6px;line-height:14px;margin-bottom:-3.6px;position:relative;left:0px;top:0.4px;">웃음꽃</div></div>
<div class="c " style="left:148.5px;top:556.3px;width:42.5px;height:147.9px;"><div class="vh" style="font-weight:400;position:relative;left:0px;top:1.8px;"><div class="v" style="font-size:10.1px;letter-spacing:3.6px;line-height:12.1px;margin-bottom:-3px">청소년방과후</div><div class="h" style="font-size:10.1px;line-height:13.7px">2그룹</div></div></div>
<div class="c " style="left:191px;top:556.3px;width:41.9px;height:98.7px;"><div class="v" style="font-weight:700;font-size:10.1px;letter-spacing:3.6px;line-height:14px;margin-bottom:-3.6px;position:relative;left:0px;top:0.4px;">아동청소년</div></div>
<div class="c " style="left:232.9px;top:341.5px;width:42.1px;height:98.5px;"><div class="v" style="font-weight:500;-webkit-text-stroke:0.22px #000;font-size:10.2px;letter-spacing:4.5px;line-height:14px;margin-bottom:-4.5px;position:relative;left:0px;top:-0.9px;">주간보호</div></div>
<div class="c " style="left:232.9px;top:440px;width:42.1px;height:116.3px;"><div class="v" style="font-weight:500;-webkit-text-stroke:0.22px #000;font-size:10.2px;letter-spacing:4.5px;line-height:14px;margin-bottom:-4.5px;position:relative;left:0px;top:-0.9px;">경진대회준비&amp;<br>자격증반</div></div>
<div class="c " style="left:232.9px;top:556.3px;width:42.1px;height:98.7px;"><div class="v" style="font-weight:500;-webkit-text-stroke:0.22px #000;font-size:10.2px;letter-spacing:4.5px;line-height:14px;margin-bottom:-4.5px;position:relative;left:0px;top:-0.9px;">청소년방과후</div></div>
<div class="c " style="left:275px;top:606.1px;width:42.4px;height:98.1px;"><div class="v" style="font-weight:700;font-size:10.1px;letter-spacing:3.6px;line-height:14px;margin-bottom:-3.6px;position:relative;left:0px;top:0.4px;">느린학습자</div></div>
<div class="c " style="left:317.4px;top:341.5px;width:42.3px;height:98.5px;"><div class="v" style="font-weight:700;font-size:10.1px;letter-spacing:3.6px;line-height:14px;margin-bottom:-3.6px;position:relative;left:0px;top:0.4px;">성인자립반</div></div>
<div class="c " style="left:317.4px;top:556.3px;width:42.3px;height:98.7px;"><div class="v" style="font-weight:700;font-size:10.1px;letter-spacing:3.6px;line-height:14px;margin-bottom:-3.6px;position:relative;left:0px;top:0.4px;">내가주인공</div></div>
<div class="c " style="left:359.7px;top:390.5px;width:42.5px;height:165.8px;"><div class="v" style="font-weight:700;font-size:10.1px;letter-spacing:3.6px;line-height:14px;margin-bottom:-3.6px;position:relative;left:0px;top:0.4px;">볼링</div></div>
<div class="c " style="left:359.7px;top:556.3px;width:42.5px;height:147.9px;"><div class="vh" style="font-weight:700;position:relative;left:0px;top:1.8px;"><div class="v" style="font-size:10.1px;letter-spacing:3.6px;line-height:12.1px;margin-bottom:-3px">청소년방과후</div><div class="h" style="font-size:10.1px;line-height:13.7px"><span class="o">1</span>그룹</div></div></div>
<div class="c " style="left:402.2px;top:341.5px;width:42.2px;height:98.5px;"><div class="v" style="font-weight:500;-webkit-text-stroke:0.22px #000;font-size:10.2px;letter-spacing:4.5px;line-height:14px;margin-bottom:-4.5px;position:relative;left:0px;top:-0.9px;">A<span class="d im">I</span>활용교육<br>스마트폰<span class="d">2</span></div></div>
<div class="c " style="left:402.2px;top:440px;width:42.2px;height:116.3px;"><div class="v" style="font-weight:500;-webkit-text-stroke:0.22px #000;font-size:10.2px;letter-spacing:4.5px;line-height:14px;margin-bottom:-4.5px;position:relative;left:0px;top:-0.9px;">경진대회준비&amp;<br>자격증반</div></div>
<div class="c " style="left:402.2px;top:556.3px;width:42.2px;height:147.9px;"><div class="vh" style="font-weight:400;position:relative;left:0px;top:1.8px;"><div class="v" style="font-size:10.1px;letter-spacing:3.6px;line-height:12.1px;margin-bottom:-3px">청소년방과후</div><div class="h" style="font-size:10.1px;line-height:13.7px">2그룹</div></div></div>
<div class="c " style="left:444.4px;top:341.5px;width:43.1px;height:98.5px;"><div class="v" style="font-weight:700;font-size:10.1px;letter-spacing:3.6px;line-height:14px;margin-bottom:-3.6px;position:relative;left:0px;top:0.4px;">원예교실</div></div>
<div class="c " style="left:444.4px;top:440px;width:43.1px;height:215px;"><div class="v" style="font-weight:700;font-size:10.1px;letter-spacing:4.65px;line-height:14px;margin-bottom:-4.65px;position:relative;left:0px;top:0.4px;">함께쓰는　블로그동아리</div></div>
<div class="c " style="left:487.5px;top:440px;width:42.2px;height:116.3px;"><div class="vh" style="font-weight:700;position:relative;left:0px;top:1.4px;"><div class="v" style="font-size:10.1px;letter-spacing:3.6px;line-height:12.1px;margin-bottom:-2.4px">특수체육</div><div class="h" style="font-size:10.1px;line-height:13.7px">(주간)</div></div></div>
<div class="c " style="left:487.5px;top:606.1px;width:42.2px;height:98.1px;"><div class="v" style="font-weight:700;font-size:10.1px;letter-spacing:3.6px;line-height:14px;margin-bottom:-3.6px;position:relative;left:0px;top:0.4px;">느린학습자</div></div>
<div class="c " style="left:529.7px;top:390.5px;width:42.3px;height:99px;"><div class="v" style="font-weight:700;font-size:10.1px;letter-spacing:3.6px;line-height:14px;margin-bottom:-3.6px;position:relative;left:0px;top:0.4px;">풋살</div></div>
<div class="c " style="left:529.7px;top:556.3px;width:42.3px;height:147.9px;"><div class="vh" style="font-weight:700;position:relative;left:0px;top:1.8px;"><div class="v" style="font-size:10.1px;letter-spacing:3.6px;line-height:12.1px;margin-bottom:-3px">청소년방과후</div><div class="h" style="font-size:10.1px;line-height:13.7px"><span class="o">1</span>그룹</div></div></div>
<div class="c " style="left:572px;top:556.3px;width:42.4px;height:147.9px;"><div class="vh" style="font-weight:400;position:relative;left:0px;top:1.8px;"><div class="v" style="font-size:10.1px;letter-spacing:3.6px;line-height:12.1px;margin-bottom:-3px">청소년방과후</div><div class="h" style="font-size:10.1px;line-height:13.7px">2그룹</div></div></div>
<div class="c " style="left:699.3px;top:341.5px;width:42.1px;height:98.5px;"><div class="v" style="font-weight:700;font-size:10.1px;letter-spacing:3.6px;line-height:14px;margin-bottom:-3.6px;position:relative;left:0px;top:0.4px;">풍물교실</div></div>
<div class="c " style="left:699.3px;top:440px;width:42.1px;height:116.3px;"><div class="vh" style="font-weight:700;position:relative;left:0px;top:1.4px;"><div class="v" style="font-size:10.1px;letter-spacing:3.6px;line-height:12.1px;margin-bottom:-2.4px">특수체육</div><div class="h" style="font-size:10.1px;line-height:13.7px">(주간)</div></div></div>
<div class="c " style="left:699.3px;top:556.3px;width:42.1px;height:98.7px;"><div class="v" style="font-weight:700;font-size:10.1px;letter-spacing:3.6px;line-height:14px;margin-bottom:-3.6px;position:relative;left:0px;top:0.4px;">내가주인공</div></div>
<div class="c " style="left:741.4px;top:390.5px;width:42.6px;height:165.8px;"><div class="v" style="font-weight:700;font-size:10.1px;letter-spacing:3.6px;line-height:14px;margin-bottom:-3.6px;position:relative;left:0px;top:0.4px;">파크골프</div></div>
<div class="c " style="left:741.4px;top:556.3px;width:42.6px;height:147.9px;"><div class="vh" style="font-weight:700;position:relative;left:0px;top:1.8px;"><div class="v" style="font-size:10.1px;letter-spacing:3.6px;line-height:12.1px;margin-bottom:-3px">청소년방과후</div><div class="h" style="font-size:10.1px;line-height:13.7px"><span class="o">1</span>그룹</div></div></div>
<div class="c " style="left:784px;top:556.3px;width:42.4px;height:147.9px;"><div class="vh" style="font-weight:400;position:relative;left:0px;top:1.8px;"><div class="v" style="font-size:10.1px;letter-spacing:3.6px;line-height:12.1px;margin-bottom:-3px">청소년방과후</div><div class="h" style="font-size:10.1px;line-height:13.7px">2그룹</div></div></div>
<div class="c " style="left:826.4px;top:341.5px;width:42.1px;height:98.5px;"><div class="v" style="font-weight:500;-webkit-text-stroke:0.22px #000;font-size:10.2px;letter-spacing:4.5px;line-height:14px;margin-bottom:-4.5px;position:relative;left:0px;top:-0.9px;">웹툰만들기</div></div>
<div class="c " style="left:826.4px;top:440px;width:42.1px;height:116.3px;"><div class="v" style="font-weight:500;-webkit-text-stroke:0.22px #000;font-size:10.2px;letter-spacing:4.5px;line-height:14px;margin-bottom:-4.5px;position:relative;left:0px;top:-0.9px;">경진대회준비&amp;<br>자격증반</div></div>
<div class="c " style="left:996.2px;top:341.5px;width:42.1px;height:264.6px;"><div class="vh" style="font-weight:700;position:relative;left:0px;top:1.6px;"><div class="v" style="font-size:10.1px;letter-spacing:3.6px;line-height:12.1px;margin-bottom:-2.6px">에코원정대</div><div class="h" style="font-size:9.5px;line-height:13.7px">(3~7월)</div></div></div>
<div class="c " style="left:1038.3px;top:489.5px;width:42.5px;height:116.6px;"><div class="v" style="font-weight:700;font-size:10.1px;letter-spacing:3.6px;line-height:14px;margin-bottom:-3.6px;position:relative;left:0px;top:0.4px;">아동청소년</div></div>
<div class="c " style="left:1038.3px;top:606.1px;width:42.5px;height:98.1px;"><div class="v" style="font-weight:700;font-size:10.1px;letter-spacing:3.6px;line-height:14px;margin-bottom:-3.6px;position:relative;left:0px;top:0.4px;">느린학습자</div></div>
<div class="c " style="left:1080.8px;top:556.3px;width:42.5px;height:147.9px;"><div class="vh" style="font-weight:700;position:relative;left:0px;top:1.8px;"><div class="v" style="font-size:10.1px;letter-spacing:3.6px;line-height:12.1px;margin-bottom:-3px">청소년방과후</div><div class="h" style="font-size:10.1px;line-height:13.7px"><span class="o">1</span>그룹</div></div></div>
<div class="c " style="left:1123.3px;top:556.3px;width:42.4px;height:147.9px;"><div class="vh" style="font-weight:400;position:relative;left:0px;top:1.8px;"><div class="v" style="font-size:10.1px;letter-spacing:3.6px;line-height:12.1px;margin-bottom:-3px">청소년방과후</div><div class="h" style="font-size:10.1px;line-height:13.7px">2그룹</div></div></div>
<div class="c " style="left:106.3px;top:292.2px;width:1059.4px;height:49.3px;"><div class="h lunch">점 심 시 간</div></div>
<div class="c " style="left:32.6px;top:20.8px;width:1133.1px;height:31.7px;"><div class="h title"><span style="letter-spacing:-0.2px">2026</span>년 광양시 중마장애인복지관 프로그램 시간표</div></div>
<div class="c " style="left:32.6px;top:52.5px;width:73.7px;height:29.8px;"><div class="h hd1">구분</div></div>
<div class="c " style="left:106.3px;top:52.5px;width:211.1px;height:29.8px;"><div class="h hd2">월</div></div>
<div class="c " style="left:317.4px;top:52.5px;width:170.1px;height:29.8px;"><div class="h hd2">화</div></div>
<div class="c " style="left:487.5px;top:52.5px;width:211.8px;height:29.8px;"><div class="h hd2">수</div></div>
<div class="c " style="left:699.3px;top:52.5px;width:296.9px;height:29.8px;"><div class="h hd2">목</div></div>
<div class="c " style="left:996.2px;top:52.5px;width:169.5px;height:29.8px;"><div class="h hd2">금</div></div>
<div class="c " style="left:32.6px;top:82.3px;width:73.7px;height:49.4px;"><div class="h tm"><span class="o">1</span>0:00~<span class="o">1</span>0:30</div></div>
<div class="c " style="left:32.6px;top:131.7px;width:73.7px;height:62.6px;"><div class="h tm"><span class="o">1</span>0:30~<span class="o">1</span><span class="o">1</span>:00</div></div>
<div class="c " style="left:32.6px;top:194.3px;width:73.7px;height:49px;"><div class="h tm"><span class="o">1</span><span class="o">1</span>:00~<span class="o">1</span><span class="o">1</span>:30</div></div>
<div class="c " style="left:32.6px;top:243.3px;width:73.7px;height:48.9px;"><div class="h tm"><span class="o">1</span><span class="o">1</span>:30~<span class="o">1</span>2:00</div></div>
<div class="c " style="left:32.6px;top:292.2px;width:73.7px;height:49.3px;"><div class="h tm"><span class="o">1</span>2:00~<span class="o">1</span>3:00</div></div>
<div class="c " style="left:32.6px;top:341.5px;width:73.7px;height:49px;"><div class="h tm"><span class="o">1</span>3:00~<span class="o">1</span>3:30</div></div>
<div class="c " style="left:32.6px;top:390.5px;width:73.7px;height:49.5px;"><div class="h tm"><span class="o">1</span>3:30~<span class="o">1</span>4:00</div></div>
<div class="c " style="left:32.6px;top:440px;width:73.7px;height:49.5px;"><div class="h tm"><span class="o">1</span>4:00~<span class="o">1</span>4:30</div></div>
<div class="c " style="left:32.6px;top:489.5px;width:73.7px;height:66.8px;"><div class="h tm"><span class="o">1</span>4:30~<span class="o">1</span>5:00</div></div>
<div class="c " style="left:32.6px;top:556.3px;width:73.7px;height:49.8px;"><div class="h tm"><span class="o">1</span>5:00~<span class="o">1</span>5:30</div></div>
<div class="c " style="left:32.6px;top:606.1px;width:73.7px;height:48.9px;"><div class="h tm"><span class="o">1</span>5:30~<span class="o">1</span>6:30</div></div>
<div class="c " style="left:32.6px;top:655px;width:73.7px;height:49.2px;"><div class="h tm"><span class="o">1</span>6:30~<span class="o">1</span>7:30</div></div>
<div class="c " style="left:32.6px;top:704.2px;width:73.7px;height:30px;"><div class="h lab">장소</div></div>
<div class="c " style="left:32.6px;top:734.2px;width:73.7px;height:23.2px;"><div class="h lab lab2">색깔</div></div>
<div class="c " style="left:106.3px;top:704.2px;width:126.6px;height:30px;"><div class="h pl">프로그램실 <span class="o">1</span></div></div>
<div class="c " style="left:232.9px;top:704.2px;width:126.8px;height:30px;"><div class="h pl">프로그램실 2</div></div>
<div class="c " style="left:359.7px;top:704.2px;width:127.8px;height:30px;"><div class="h pl">프로그램실 3</div></div>
<div class="c " style="left:487.5px;top:704.2px;width:126.9px;height:30px;"><div class="h pl">프로그램실 4</div></div>
<div class="c " style="left:614.4px;top:704.2px;width:127px;height:30px;"><div class="h pl">정보화실</div></div>
<div class="c " style="left:741.4px;top:704.2px;width:127.1px;height:30px;"><div class="h pl">교육장</div></div>
<div class="c " style="left:868.5px;top:704.2px;width:169.8px;height:30px;"><div class="h pl">강당</div></div>
<div class="c " style="left:1038.3px;top:704.2px;width:127.4px;height:30px;"><div class="h pl">관외</div></div>
<div class="c " style="left:32.6px;top:757.4px;width:1133.1px;height:30px;"><div class="h ft">프로그램 문의: 복지관 2층 통합사무실 방문 또는 06<span class="o">1</span>-795-0420으로 전화주시면 친절히 알려드리겠습니다</div></div>
</body></html>
